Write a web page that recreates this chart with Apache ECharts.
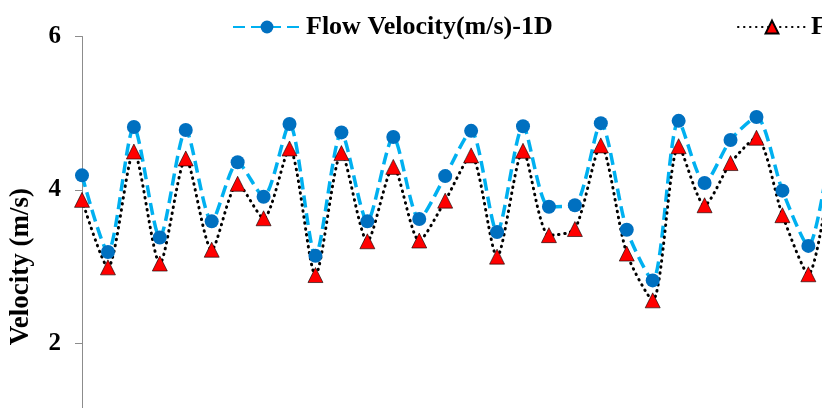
<!DOCTYPE html>
<html>
<head>
<meta charset="utf-8">
<script src="https://cdn.jsdelivr.net/npm/echarts@6/dist/echarts.min.js"></script>
<style>
  html, body { margin: 0; padding: 0; background: #fff; overflow: hidden; }
  /* the original is a crop: the plot runs past the right and bottom edges */
  #chart { width: 860px; height: 520px; }
</style>
</head>
<body>
<div id="chart"></div>
<script>
// sample index along the x axis (the axis itself runs off the picture)
const categories = Array.from({ length: 30 }, (_, i) => String(i + 1));

// velocity (m/s)
const velocity1D = [
  4.19, 3.19, 4.82, 3.38, 4.78, 3.59, 4.36, 3.91, 4.86, 3.14,
  4.75, 3.59, 4.69, 3.62, 4.18, 4.77, 3.45, 4.83, 3.78, 3.80,
  4.87, 3.48, 2.82, 4.90, 4.09, 4.65, 4.95, 3.99, 3.27, 4.90
];
const velocity2D = [
  3.87, 2.99, 4.50, 3.04, 4.41, 3.22, 4.08, 3.63, 4.54, 2.89,
  4.48, 3.33, 4.30, 3.34, 3.86, 4.45, 3.13, 4.51, 3.41, 3.49,
  4.58, 3.17, 2.56, 4.57, 3.80, 4.35, 4.68, 3.67, 2.90, 4.60
];

const yTicks = [0, 2, 4, 6];
const seriesNames = ['Flow Velocity(m/s)-1D', 'Flow Velocity(m/s)-2D'];

const FONT = '"Liberation Serif", "DejaVu Serif", serif';
const LEGEND_TEXT = { fontFamily: FONT, fontWeight: 'bold', fontSize: 26, color: '#000' };

const chart = echarts.init(document.getElementById('chart'));

chart.setOption({
  backgroundColor: '#fff',
  animation: false,
  grid: { left: 80, top: 36.5, right: 25.7, bottom: 23.3, containLabel: false },
  legend: [
    { left: 227, top: 9, itemWidth: 68, itemHeight: 16, textStyle: LEGEND_TEXT, data: [seriesNames[0]] },
    { left: 732, top: 9, itemWidth: 68, itemHeight: 16, textStyle: LEGEND_TEXT, data: [seriesNames[1]] }
  ],
  xAxis: {
    type: 'category',
    data: categories,
    boundaryGap: false,
    show: false
  },
  yAxis: {
    type: 'value',
    min: yTicks[0],
    max: yTicks[yTicks.length - 1],
    interval: 2,
    name: 'Velocity (m/s)',
    nameLocation: 'middle',
    nameGap: 47,
    nameTextStyle: { fontFamily: FONT, fontWeight: 'bold', fontSize: 27, color: '#000' },
    axisLine: { show: true, lineStyle: { color: '#8c8c8c', width: 1 } },
    axisTick: { show: true, inside: false, length: 7, lineStyle: { color: '#8c8c8c' } },
    axisLabel: { fontFamily: FONT, fontWeight: 'bold', fontSize: 25, color: '#000', margin: 21 },
    splitLine: { show: false }
  },
  series: [
    {
      name: seriesNames[0],
      type: 'line',
      data: velocity1D,
      smooth: 0.25,
      symbol: 'circle',
      symbolSize: 14,
      itemStyle: { color: '#0070c0' },
      lineStyle: { color: '#00b0f0', width: 3.5, type: [12, 6] }
    },
    {
      name: seriesNames[1],
      type: 'line',
      data: velocity2D,
      smooth: 0.25,
      symbol: 'triangle',
      symbolSize: 15,
      itemStyle: { color: '#ff0000', borderColor: '#000', borderWidth: 0.6 },
      lineStyle: { color: '#000', width: 3, type: [0.5, 5.5], cap: 'round' }
    }
  ]
});
</script>
</body>
</html>
